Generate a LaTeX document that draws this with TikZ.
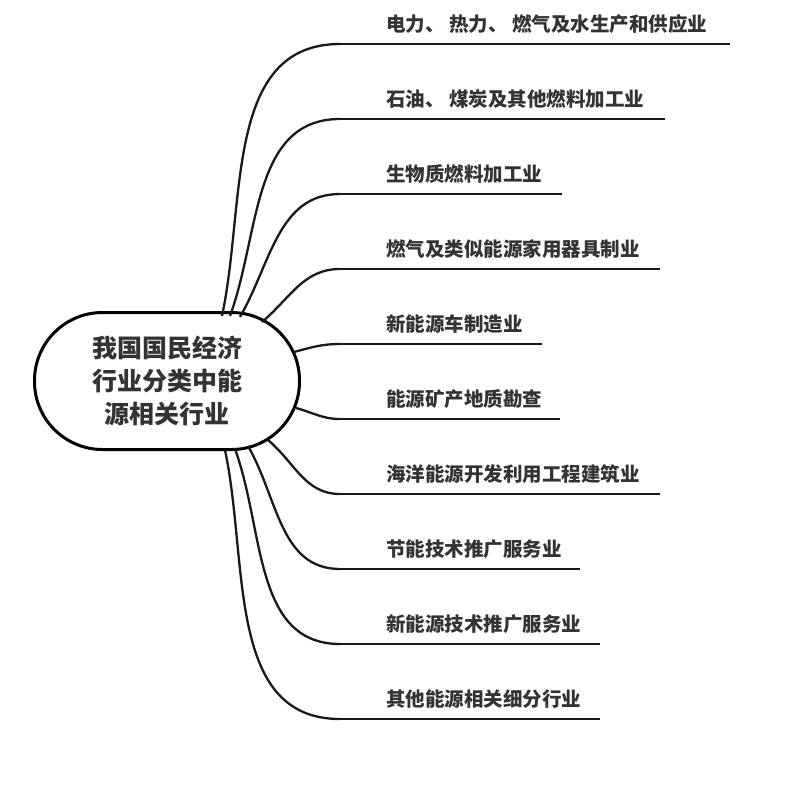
\documentclass[tikz,border=0pt]{standalone}
\usepackage{fontspec}
\newfontfamily\cjk{Noto Sans CJK SC}
\begin{document}
\begin{tikzpicture}[x=1pt,y=-1pt,
  br/.style={line width=2.3pt,black!90},
  ul/.style={line width=1.4pt,black!90},
  lab/.style={anchor=west,font=\cjk\bfseries\fontsize{19.5}{22}\selectfont,text=black!80,inner sep=0pt}]
\useasboundingbox (0,0) rectangle (798,790);
\node[draw,line width=3pt,rounded corners=68pt,minimum width=265pt,minimum height=137pt,align=center,font=\cjk\bfseries\fontsize{25}{33}\selectfont,text=black!80] (c) at (167,381) {我国国民经济\\行业分类中能\\源相关行业};
\foreach \i/\y/\e/\sx/\sy/\o/\t in {
 1/44/730/222/316/78/电力、 热力、 燃气及水生产和供应业,
 2/119/665/230/316/70/石油、 煤炭及其他燃料加工业,
 3/194/562/240/317/60/生物质燃料加工业,
 4/269/660/262/322/40/燃气及类似能源家用器具制业,
 5/344/542/294/352/15/新能源车制造业,
 6/419/560/296/408/-15/能源矿产地质勘查,
 7/494/660/268/440/-40/海洋能源开发利用工程建筑业,
 8/569/580/248/446/-60/节能技术推广服务业,
 9/644/600/235/449/-70/新能源技术推广服务业,
 10/719/600/225/450/-78/其他能源相关细分行业}{
  \coordinate (s\i) at (\sx,\sy);
  \coordinate (a\i) at (340,\y);
  \coordinate (b\i) at (\e,\y);
  \draw[br] (s\i) to[out=\o,in=180] (a\i);
  \draw[ul] (a\i) -- (b\i);
  \node[lab] (t\i) at (386,\y-20) {\t};
}
\end{tikzpicture}
\end{document}
